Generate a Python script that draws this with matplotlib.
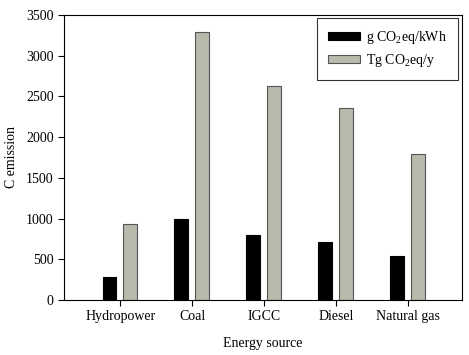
import numpy as np
import matplotlib
matplotlib.use('Agg')
import matplotlib.pyplot as plt

sources = ['Hydropower', 'Coal', 'IGCC', 'Diesel', 'Natural gas']
g_per_kwh = [285, 1000, 800, 715, 545]
tg_per_year = [935, 3285, 2625, 2360, 1790]

plt.rcParams['font.family'] = 'Liberation Serif'
plt.rcParams['mathtext.fontset'] = 'custom'
plt.rcParams['mathtext.rm'] = 'Liberation Serif'

fig = plt.figure(figsize=(4.69, 3.55), dpi=100)
ax = fig.add_axes([0.1365, 0.155, 0.8485, 0.803])

x = np.arange(len(sources))
w = 0.19
ax.bar(x - 0.15, g_per_kwh, w, color='black', edgecolor='black', linewidth=0.8,
       label=r'g CO$_2$eq/kWh')
ax.bar(x + 0.14, tg_per_year, w, color='#b9baac', edgecolor='#555555', linewidth=0.8,
       label=r'Tg CO$_2$eq/y')

ax.set_xlim(-0.78, 4.75)
ax.set_ylim(0, 3500)
ax.set_yticks(range(0, 3501, 500))
ax.set_xticks(x)
ax.set_xticklabels(sources)
ax.tick_params(labelsize=10, direction='out', length=4, width=0.8)
ax.set_xlabel('Energy source', fontsize=10, labelpad=10)
ax.set_ylabel('C emission', fontsize=10, labelpad=6)
for s in ax.spines.values():
    s.set_linewidth(0.8)

leg = ax.legend(loc='upper right', fontsize=10, frameon=True, fancybox=False,
                edgecolor='black', borderpad=0.8, handlelength=2.3, handleheight=0.5,
                handletextpad=0.45, labelspacing=0.4, borderaxespad=0,
                bbox_to_anchor=(0.9765, 0.949), bbox_transform=fig.transFigure)
leg.get_frame().set_linewidth(0.8)

fig.savefig('out.png', dpi=100)
